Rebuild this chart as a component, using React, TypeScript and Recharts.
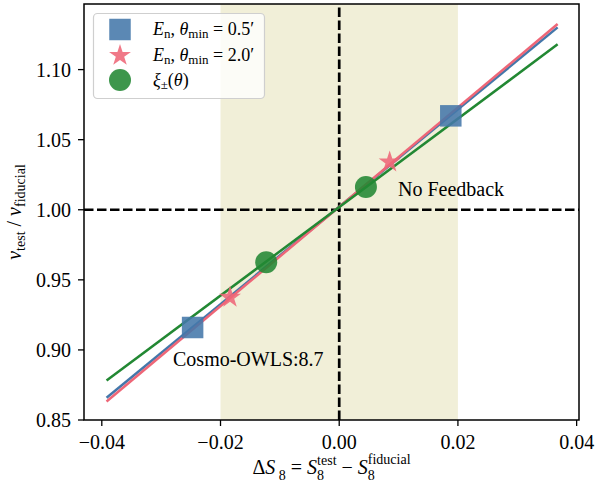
import React from 'react';
import {
  ComposedChart,
  Line,
  Scatter,
  XAxis,
  YAxis,
  ReferenceArea,
  ReferenceLine,
} from 'recharts';

// ---- data ----
const enSmallPoints = [
  { x: -0.0247, y: 0.916 },
  { x: 0.0188, y: 1.067 },
];
const enLargePoints = [
  { x: -0.0184, y: 0.9375 },
  { x: 0.0085, y: 1.034 },
];
const xiPoints = [
  { x: -0.0123, y: 0.9625 },
  { x: 0.0045, y: 1.0163 },
];
const enSmallFit = [
  { x: -0.0392, y: 0.8659 },
  { x: 0.0368, y: 1.1301 },
];
const enLargeFit = [
  { x: -0.0392, y: 0.8632 },
  { x: 0.0368, y: 1.1325 },
];
const xiFit = [
  { x: -0.0392, y: 0.8782 },
  { x: 0.0368, y: 1.118 },
];
const annotations = [
  { x: 0.0099, y: 1.0096, text: 'No Feedback' },
  { x: -0.028, y: 0.8882, text: 'Cosmo-OWLS:8.7' },
];
const xTicks = [-0.04, -0.02, 0, 0.02, 0.04];
const yTicks = [0.85, 0.9, 0.95, 1.0, 1.05, 1.1];
const xDomain = [-0.043, 0.0404];
const yDomain = [0.85, 1.1468];
const priorRange = [-0.02, 0.02];

const BLUE = '#4477AA';
const RED = '#EE6677';
const GREEN = '#228833';
const SERIF = "'Liberation Serif', 'Times New Roman', serif";

const fmt = (v: number) => v.toFixed(2).replace('-', '\u2212');

const SquareShape = (p: any) => (
  <rect x={p.cx - 10.75} y={p.cy - 10.75} width={21.5} height={21.5} fill={BLUE} fillOpacity={0.88} />
);

const starPath = (cx: number, cy: number, R: number) => {
  const r = R * 0.382;
  const pts: string[] = [];
  for (let i = 0; i < 10; i++) {
    const a = -Math.PI / 2 + (i * Math.PI) / 5;
    const rad = i % 2 === 0 ? R : r;
    pts.push(`${cx + rad * Math.cos(a)},${cy + rad * Math.sin(a)}`);
  }
  return 'M' + pts.join('L') + 'Z';
};

const StarShape = (p: any) => <path d={starPath(p.cx, p.cy, 11.5)} fill={RED} fillOpacity={0.88} />;

const CircleShape = (p: any) => <circle cx={p.cx} cy={p.cy} r={11} fill={GREEN} fillOpacity={0.88} />;

const TextShape = (p: any) => (
  <text x={p.cx} y={p.cy} fontFamily={SERIF} fontSize={20} fill="#000">
    {p.payload.text}
  </text>
);

const YLabel = (props: any) => {
  const vb = props.viewBox || { x: 0, y: 4, width: 84, height: 416 };
  const cx = vb.x + 21;
  const cy = vb.y + vb.height / 2;
  return (
    <text
      x={cx}
      y={cy}
      transform={`rotate(-90, ${cx}, ${cy})`}
      textAnchor="middle"
      fontFamily={SERIF}
      fontSize={20}
      fill="#000"
    >
      <tspan fontStyle="italic">ν</tspan>
      <tspan fontSize={14} dy={4}>test</tspan>
      <tspan dy={-4}> / </tspan>
      <tspan fontStyle="italic">ν</tspan>
      <tspan fontSize={14} dy={4}>fiducial</tspan>
    </text>
  );
};

const XLabel = (props: any) => {
  const vb = props.viewBox || { x: 84, y: 420, width: 495, height: 64 };
  const cx = vb.x + vb.width / 2;
  const y = vb.y + 54;
  return (
    <text x={cx} y={y} textAnchor="middle" fontFamily={SERIF} fontSize={20} fill="#000">
      <tspan>Δ</tspan>
      <tspan fontStyle="italic">S</tspan>
      <tspan fontSize={14} dy={6}> 8</tspan>
      <tspan dy={-6}> = </tspan>
      <tspan fontStyle="italic">S</tspan>
      <tspan fontSize={14} dy={6}>8</tspan>
      <tspan fontSize={14} dx={-7} dy={-15}>test</tspan>
      <tspan dy={9}> − </tspan>
      <tspan fontStyle="italic">S</tspan>
      <tspan fontSize={14} dy={6}>8</tspan>
      <tspan fontSize={14} dx={-7} dy={-16}>fiducial</tspan>
    </text>
  );
};

const legendItems = [
  { key: 'sq', label: (
    <>
      <tspan fontStyle="italic">E</tspan>
      <tspan fontSize={13} dy={3}>n</tspan>
      <tspan dy={-3}>, </tspan>
      <tspan fontStyle="italic">θ</tspan>
      <tspan fontSize={13} dy={3}>min</tspan>
      <tspan dy={-3}> = 0.5′</tspan>
    </>
  ) },
  { key: 'st', label: (
    <>
      <tspan fontStyle="italic">E</tspan>
      <tspan fontSize={13} dy={3}>n</tspan>
      <tspan dy={-3}>, </tspan>
      <tspan fontStyle="italic">θ</tspan>
      <tspan fontSize={13} dy={3}>min</tspan>
      <tspan dy={-3}> = 2.0′</tspan>
    </>
  ) },
  { key: 'ci', label: (
    <>
      <tspan fontStyle="italic">ξ</tspan>
      <tspan fontSize={13} dy={3}>±</tspan>
      <tspan dy={-3}>(</tspan>
      <tspan fontStyle="italic">θ</tspan>
      <tspan>)</tspan>
    </>
  ) },
];

const LegendOverlay = () => {
  const rows = [29.5, 55.5, 80];
  const mx = 120;
  return (
    <svg
      width={596}
      height={484}
      style={{ position: 'absolute', left: 0, top: 0, pointerEvents: 'none' }}
    >
      <rect x={93.5} y={13.5} width={171} height={85} rx={4} fill="#fff" fillOpacity={0.8} stroke="#cfcfcf" strokeWidth={1.2} />
      <SquareShape cx={mx} cy={rows[0]} />
      <StarShape cx={mx} cy={rows[1]} />
      <CircleShape cx={mx} cy={rows[2]} />
      {legendItems.map((it, i) => (
        <text key={it.key} x={153} y={rows[i] + 5.5} fontFamily={SERIF} fontSize={18} fill="#000">
          {it.label}
        </text>
      ))}
    </svg>
  );
};

export default function App() {
  return (
    <div style={{ position: 'absolute', left: 0, top: 0, width: 596, height: 484, background: '#fff' }}>
      <ComposedChart width={596} height={484} margin={{ top: 4, right: 17, left: 0, bottom: 0 }}>
        <XAxis
          type="number"
          dataKey="x"
          domain={xDomain}
          ticks={xTicks}
          allowDataOverflow
          height={64}
          axisLine={false}
          tickLine={{ stroke: '#000', strokeWidth: 1.3 }}
          tickSize={6}
          tickMargin={9}
          tick={{ fill: '#000', fontSize: 20, fontFamily: SERIF }}
          tickFormatter={fmt}
          label={{ content: XLabel }}
        />
        <YAxis
          type="number"
          dataKey="y"
          domain={yDomain}
          ticks={yTicks}
          allowDataOverflow
          width={84}
          axisLine={false}
          tickLine={{ stroke: '#000', strokeWidth: 1.3 }}
          tickSize={6}
          tickMargin={7}
          tick={{ fill: '#000', fontSize: 20, fontFamily: SERIF }}
          tickFormatter={fmt}
          label={{ content: YLabel }}
        />
        <ReferenceArea x1={priorRange[0]} x2={priorRange[1]} fill="#f1efd8" fillOpacity={1} stroke="none" />
        <ReferenceLine x={0} stroke="#000" strokeWidth={2.7} strokeDasharray="9.5 3.5" />
        <ReferenceLine y={1} stroke="#000" strokeWidth={2.7} strokeDasharray="9.5 3.5" />
        <Scatter name="sq" data={enSmallPoints} shape={SquareShape} isAnimationActive={false} />
        <Scatter name="st" data={enLargePoints} shape={StarShape} isAnimationActive={false} />
        <Scatter name="ci" data={xiPoints} shape={CircleShape} isAnimationActive={false} />
        <Line data={enSmallFit} dataKey="y" stroke={BLUE} strokeWidth={2.5} dot={false} activeDot={false} isAnimationActive={false} />
        <Line data={enLargeFit} dataKey="y" stroke={RED} strokeWidth={2.5} dot={false} activeDot={false} isAnimationActive={false} />
        <Line data={xiFit} dataKey="y" stroke={GREEN} strokeWidth={2.5} dot={false} activeDot={false} isAnimationActive={false} />
        <Scatter data={annotations} shape={TextShape} isAnimationActive={false} />
        <ReferenceArea
          x1={xDomain[0]}
          x2={xDomain[1]}
          y1={yDomain[0]}
          y2={yDomain[1]}
          ifOverflow="visible"
          fill="none"
          fillOpacity={0}
          stroke="#000"
          strokeWidth={1.5}
        />
      </ComposedChart>
      <LegendOverlay />
    </div>
  );
}
